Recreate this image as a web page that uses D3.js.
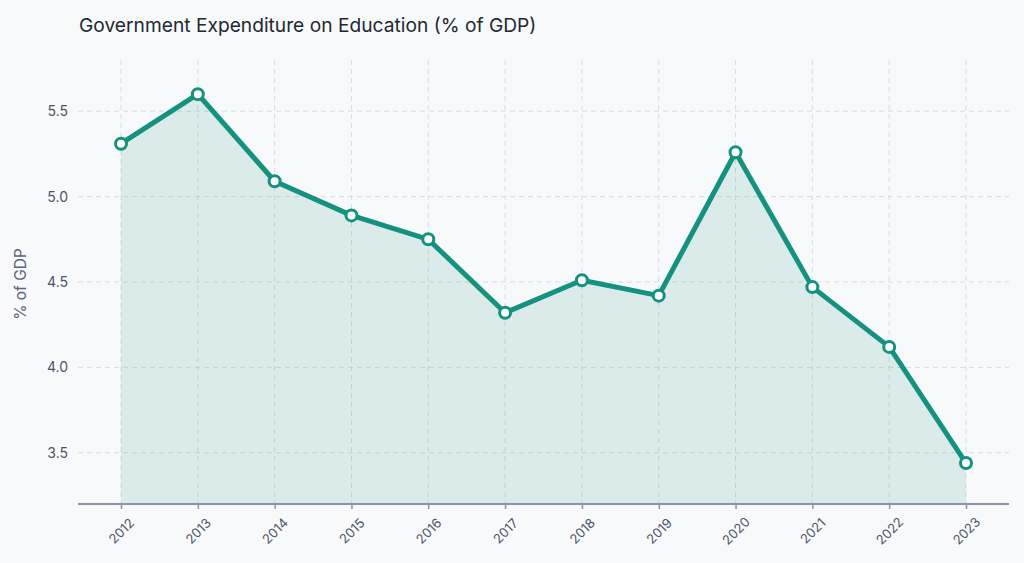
<!DOCTYPE html>
<html>
<head>
<meta charset="utf-8">
<script src="https://cdn.jsdelivr.net/npm/d3@7"></script>
<style>
  html, body { margin: 0; padding: 0; background: #f8f9fb; }
  svg { display: block; font-family: Inter, "Open Sans", sans-serif; }
</style>
</head>
<body>
<svg id="chart" width="1024" height="563"></svg>
<script>
const years = ["2012","2013","2014","2015","2016","2017","2018","2019","2020","2021","2022","2023"];
const values = [5.31, 5.60, 5.09, 4.89, 4.75, 4.32, 4.51, 4.42, 5.26, 4.47, 4.12, 3.44];
const yTicks = [3.5, 4.0, 4.5, 5.0, 5.5];
const title = "Government Expenditure on Education (% of GDP)";
const yLabel = "% of GDP";

const svg = d3.select("#chart");
const W = 1024, H = 563;
const margin = { left: 78, right: 15, top: 60, bottom: 59 };
const teal = "#14917f";

svg.append("rect").attr("width", W).attr("height", H).attr("fill", "#f8f9fb");

const x = d3.scalePoint().domain(years).range([121, 966]);
const y = d3.scaleLinear().domain([3.2, 5.8]).range([H - margin.bottom, margin.top]);

// horizontal gridlines
svg.append("g").selectAll("line").data(yTicks).join("line")
  .attr("x1", margin.left).attr("x2", W - margin.right)
  .attr("y1", d => y(d)).attr("y2", d => y(d))
  .attr("stroke", "#d5dbe3").attr("stroke-width", 1).attr("stroke-dasharray", "5,4");

// vertical gridlines
svg.append("g").selectAll("line").data(years).join("line")
  .attr("x1", d => x(d)).attr("x2", d => x(d))
  .attr("y1", margin.top).attr("y2", H - margin.bottom)
  .attr("stroke", "#d5dbe3").attr("stroke-width", 1).attr("stroke-dasharray", "5,4");

const pts = years.map((yr, i) => ({ yr, v: values[i] }));

// area
svg.append("path").datum(pts)
  .attr("d", d3.area().x(d => x(d.yr)).y0(y(3.2)).y1(d => y(d.v)))
  .attr("fill", teal).attr("fill-opacity", 0.13);

// line
svg.append("path").datum(pts)
  .attr("d", d3.line().x(d => x(d.yr)).y(d => y(d.v)))
  .attr("fill", "none").attr("stroke", teal).attr("stroke-width", 5)
  .attr("stroke-linejoin", "round").attr("stroke-linecap", "round");

// points
svg.append("g").selectAll("circle").data(pts).join("circle")
  .attr("cx", d => x(d.yr)).attr("cy", d => y(d.v)).attr("r", 5.5)
  .attr("fill", "#ffffff").attr("stroke", teal).attr("stroke-width", 3);

// x axis
const xAxis = svg.append("g")
  .attr("transform", `translate(0,${H - margin.bottom})`)
  .call(d3.axisBottom(x).tickSize(5).tickPadding(0).tickSizeOuter(0));
xAxis.select(".domain").attr("d", `M${margin.left},0H${W - margin.right}`)
  .attr("stroke", "#8a96a8").attr("stroke-width", 2);
xAxis.selectAll(".tick line").attr("stroke", "#8a96a8").attr("stroke-width", 1.5);
xAxis.selectAll(".tick text")
  .attr("fill", "#4a5568").attr("font-size", 13)
  .attr("font-family", "Inter, 'Open Sans', sans-serif")
  .attr("text-anchor", "middle")
  .attr("y", 0).attr("dy", "0.35em")
  .attr("transform", "translate(0,27) rotate(-45)");

// y axis labels
const yAxis = svg.append("g")
  .attr("transform", `translate(${margin.left},0)`)
  .call(d3.axisLeft(y).tickValues(yTicks).tickFormat(d3.format(".1f")).tickSize(0).tickPadding(10));
yAxis.select(".domain").remove();
yAxis.selectAll(".tick text")
  .attr("fill", "#4a5568").attr("font-size", 14)
  .attr("font-family", "Inter, 'Open Sans', sans-serif");

// y label
svg.append("text")
  .attr("transform", "translate(26,284) rotate(-90)")
  .attr("text-anchor", "middle")
  .attr("fill", "#5a6577").attr("font-size", 15.5)
  .text(yLabel);

// title
svg.append("text")
  .attr("x", 79).attr("y", 32)
  .attr("fill", "#222831").attr("font-size", 19.2)
  .text(title);
</script>
</body>
</html>
